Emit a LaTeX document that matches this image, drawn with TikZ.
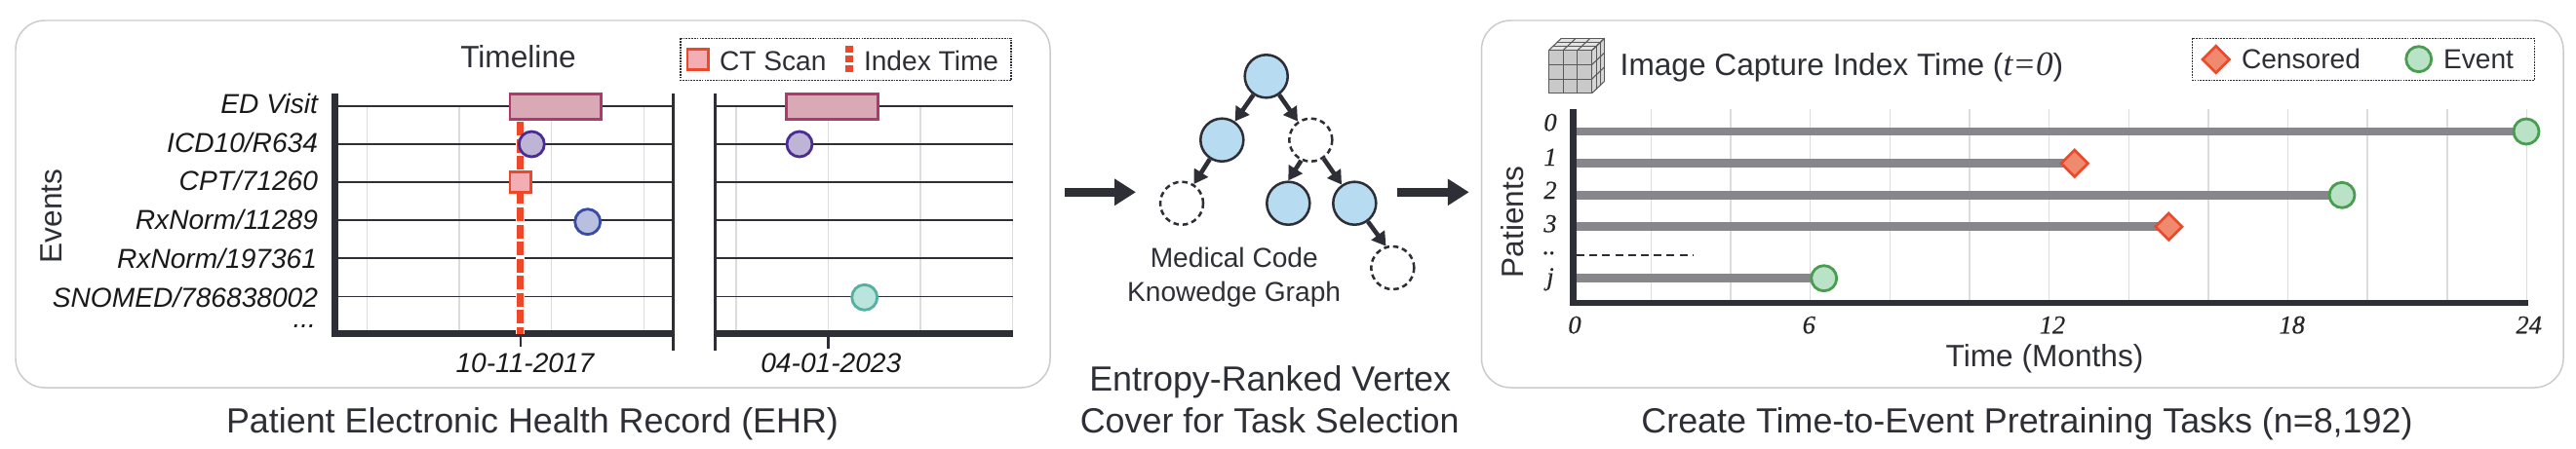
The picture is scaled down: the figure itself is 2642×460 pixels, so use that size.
\documentclass[tikz,border=0pt]{standalone}
\usepackage{fontspec}
\setmainfont{Liberation Sans}
\newfontfamily\numfont[ItalicFeatures={FakeBold=0.5}]{Liberation Serif}
\newfontfamily\titlefont{Liberation Serif}
\usetikzlibrary{arrows.meta,shapes.geometric,backgrounds}

\begin{document}
\begin{tikzpicture}[x=0.01cm,y=-0.01cm,
  txt/.style={inner sep=0pt,outer sep=0pt,text=inkDark},
  captiontxt/.style={txt,anchor=base,font=\fontsize{10.2}{12}\selectfont},
  bigtxt/.style={txt,font=\fontsize{9}{11}\selectfont},
  smalltxt/.style={txt,anchor=base west,font=\fontsize{8}{10}\selectfont},
  rowtxt/.style={txt,anchor=base east,font=\fontsize{8}{10}\selectfont\itshape,text=black!90},
  numtxt/.style={txt,anchor=base,font=\fontsize{7.5}{9}\numfont\itshape,text=black!85},
  panelbox/.style={draw=panelGray,line width=0.42pt,rounded corners=0.3cm},
  legendbox/.style={draw=inkDark,line width=0.3pt,dash pattern=on 0.5pt off 0.3pt},
  gridline/.style={draw=gridGray,line width=0.42pt},
  rowline/.style={draw=inkDark,line width=0.38pt},
  axisline/.style={draw=inkDark,line width=1.85pt},
  visitbox/.style={draw=colVisit,fill=colVisitFill,line width=0.8pt,inner sep=0pt,minimum width=0.935cm,minimum height=0.26cm},
  ctbox/.style={draw=colRed,fill=colCtFill,line width=0.75pt,inner sep=0pt,minimum size=0.215cm},
  dotmark/.style={circle,line width=0.8pt,inner sep=0pt,minimum size=0.26cm},
  eventmark/.style={dotmark,draw=colEvent,fill=colEventFill},
  censormark/.style={diamond,aspect=1,draw=colRed,fill=colCensorFill,line width=0.75pt,inner sep=0pt,minimum size=0.285cm},
  spanbar/.style={draw=barGray,line width=2.5pt},
  kgnode/.style={circle,draw=inkDark,fill=colNode,line width=0.72pt,inner sep=0pt,minimum size=0.44cm},
  kgdrop/.style={kgnode,fill=none,dash pattern=on 1.6pt off 1.1pt},
  kgarrow/.style={draw=inkDark,line width=1.3pt,-{Triangle[length=4pt,width=4.6pt]}},
  flowarrow/.style={draw=inkDark,line width=2.65pt,-{Triangle[length=6.2pt,width=7.4pt]}},
]

% Colori
\definecolor{inkDark}{HTML}{2E2F36}
\definecolor{panelGray}{HTML}{CBCBCB}
\definecolor{gridGray}{HTML}{DCDCDC}
\definecolor{barGray}{HTML}{87878B}
\definecolor{colRed}{HTML}{EE482B}
\definecolor{colCtFill}{HTML}{F4ADB3}
\definecolor{colVisit}{HTML}{AF386C}
\definecolor{colVisitFill}{HTML}{D9A9B6}
\definecolor{colIcd}{HTML}{4B2C92}
\definecolor{colIcdFill}{HTML}{BDB4D6}
\definecolor{colRx}{HTML}{3A4BA5}
\definecolor{colRxFill}{HTML}{B9C0DF}
\definecolor{colSno}{HTML}{55B0A0}
\definecolor{colSnoFill}{HTML}{B9E5DC}
\definecolor{colNode}{HTML}{B7DCF2}
\definecolor{colEvent}{HTML}{4A9D50}
\definecolor{colEventFill}{HTML}{BAE2C6}
\definecolor{colCensorFill}{HTML}{F08A6E}

\useasboundingbox (0,0) rectangle (2642,460);

% Pannelli
\draw[panelbox] (16,21) rectangle (1077,398);
\draw[panelbox] (1519.5,21) rectangle (2629,398);

% --- EHR ---
\node[bigtxt,anchor=base] (timeline) at (531.5,69.3) {Timeline};
\node[bigtxt,anchor=base,rotate=90] (events) at (63.3,222) {Events};

% griglia
\foreach \xx in {376.7,471,565.7,660.7,755,849.3,944,1038.7}
  \draw[gridline] (\xx,109) -- (\xx,339);

% righe eventi
\foreach \yy in {109,148,187,226,265,304.3} {
  \draw[rowline] (347,\yy) -- (690,\yy);
  \draw[rowline] (735,\yy) -- (1039,\yy);
}

% etichette eventi
\node[rowtxt] (rowED) at (326,116.7) {ED Visit};
\node[rowtxt] (rowICD) at (326,156) {ICD10/R634};
\node[rowtxt] (rowCPT) at (326,195.5) {CPT/71260};
\node[rowtxt] (rowRxA) at (326,235.5) {RxNorm/11289};
\node[rowtxt] (rowRxB) at (325,275) {RxNorm/197361};
\node[rowtxt] (rowSno) at (326,315) {SNOMED/786838002};
\node[rowtxt] (rowMore) at (324,336.7) {...};

% assi
\draw[axisline] (343.5,96) -- (343.5,345.5);
\draw[axisline] (340,342.5) -- (690,342.5);
\draw[axisline] (733,342.5) -- (1039,342.5);
\draw[inkDark,line width=0.85pt] (690,96) -- (690,359.5);
\draw[inkDark,line width=0.85pt] (733,96) -- (733,359.5);
\draw[inkDark,line width=0.6pt] (533.7,346) -- (533.7,356);
\draw[inkDark,line width=0.85pt] (849.3,346) -- (849.3,358);

% tempo indice
\coordinate (indexTop) at (533.7,125);
\coordinate (indexEnd) at (533.7,343);
\draw[white,line width=2.5pt] (indexTop) -- (indexEnd);
\draw[colRed,line width=1.85pt,dash pattern=on 4pt off 1pt] (indexTop) -- (indexEnd);

% eventi
\node[visitbox] (visitA) at (569.8,109.3) {};
\node[visitbox] (visitB) at (853.5,109.3) {};
\node[ctbox] (scan) at (533.7,187) {};
\node[dotmark,draw=colIcd,fill=colIcdFill] (icdA) at (545.3,148) {};
\node[dotmark,draw=colIcd,fill=colIcdFill] (icdB) at (820,148) {};
\node[dotmark,draw=colRx,fill=colRxFill] (rxA) at (602.7,227.7) {};
\node[dotmark,draw=colSno,fill=colSnoFill] (snoA) at (886.7,305.3) {};

% date
\node[rowtxt,anchor=base] (dateA) at (538.5,382.7) {10-11-2017};
\node[rowtxt,anchor=base] (dateB) at (852.3,382.7) {04-01-2023};

% legenda EHR
\draw[legendbox] (698,39.3) rectangle (1037,82.3);
\node[ctbox] (legScan) at (715.7,61) {};
\node[smalltxt] (legScanTxt) at (738,72.7) {CT Scan};
\coordinate (legIndexA) at (871,47);
\coordinate (legIndexB) at (871,75);
\draw[colRed,line width=2pt,dash pattern=on 2pt off 0.85pt] (legIndexA) -- (legIndexB);
\node[smalltxt] (legIndexTxt) at (886,72.7) {Index Time};

\node[captiontxt] (capEHR) at (546,444.3) {Patient Electronic Health Record (EHR)};

% --- Grafo ---
\node[kgnode] (root) at (1298.7,78.3) {};
\node[kgnode] (kgLeft) at (1253.3,143.7) {};
\node[kgdrop] (kgMid) at (1344.3,143.7) {};
\node[kgdrop] (kgLow) at (1212,208.7) {};
\node[kgnode] (kgA) at (1321.3,208.7) {};
\node[kgnode] (kgB) at (1389.3,208.7) {};
\node[kgdrop] (kgEnd) at (1428.3,275) {};

\draw[kgarrow] (root) -- (kgLeft);
\draw[kgarrow] (root) -- (kgMid);
\draw[kgarrow] (kgLeft) -- (kgLow);
\draw[kgarrow] (kgMid.245) -- (kgA.north);
\draw[kgarrow] (kgMid) -- (kgB);
\draw[kgarrow] (kgB.-54) -- (kgEnd.107);

\node[smalltxt,anchor=base] (kgTxtA) at (1265.8,274) {Medical Code};
\node[smalltxt,anchor=base] (kgTxtB) at (1265.6,309.3) {Knowedge Graph};
\node[captiontxt] (capKgA) at (1302.7,401) {Entropy-Ranked Vertex};
\node[captiontxt] (capKgB) at (1302.2,444.3) {Cover for Task Selection};

% frecce tra pannelli
\coordinate (flowAa) at (1092,197.3);
\coordinate (flowAb) at (1165,197.3);
\coordinate (flowBa) at (1433.3,197.3);
\coordinate (flowBb) at (1506.7,197.3);
\draw[flowarrow] (flowAa) -- (flowAb);
\draw[flowarrow] (flowBa) -- (flowBb);

% --- Tempo all'evento ---
% cubo
\def\cubeL{1588.3}
\def\cubeR{1632.7}
\def\cubeT{51.7}
\def\cubeB{95.7}
\fill[gray!22] (\cubeL,\cubeT) -- ++(13,-12.4) -- ++(44.4,0) -- (\cubeR,\cubeT) -- cycle;
\fill[gray!32] (\cubeR,\cubeT) -- ++(13,-12.4) -- ++(0,44) -- (\cubeR,\cubeB) -- cycle;
\fill[gray!42] (\cubeL,\cubeT) rectangle (\cubeR,\cubeB);
\foreach \k in {0,1,2,3} {
  \draw[black!65,line width=0.3pt] ({\cubeL+\k*14.8},\cubeT) -- ({\cubeL+\k*14.8},\cubeB);
  \draw[black!65,line width=0.3pt] (\cubeL,{\cubeT+\k*14.67}) -- (\cubeR,{\cubeT+\k*14.67});
  \draw[black!65,line width=0.3pt] ({\cubeL+\k*14.8},\cubeT) -- ++(13,-12.4);
  \draw[black!65,line width=0.3pt] (\cubeR,{\cubeT+\k*14.67}) -- ++(13,-12.4);
  \draw[black!65,line width=0.3pt] ({\cubeR+\k*13/3},{\cubeT-\k*12.4/3}) -- ++(0,44);
  \draw[black!65,line width=0.3pt] ({\cubeL+\k*13/3},{\cubeT-\k*12.4/3}) -- ++(44.4,0);
}

\node[bigtxt,anchor=base west] (imgTitle) at (1661.7,77.7) {Image Capture Index Time ({\fontsize{10}{11}\titlefont\itshape t=0})};

% righe pazienti
\node[eventmark] (endA) at (2591,135) {};
\node[censormark] (endB) at (2127.7,167.7) {};
\node[eventmark] (endC) at (2402,200.3) {};
\node[censormark] (endD) at (2224.3,232.7) {};
\node[eventmark] (endE) at (1870.7,285.7) {};

\begin{scope}[on background layer]
% griglia
\foreach \k in {1,...,12}
  \draw[gridline] ({1611.7+81.65*\k},112.3) -- ({1611.7+81.65*\k},308);
\foreach \nm/\yy in {A/135,B/167.7,C/200.3,D/232.7,E/285.7} {
  \coordinate (start\nm) at (1617,\yy);
  \draw[spanbar] (start\nm) -- (end\nm.center);
}
\end{scope}
\coordinate (moreA) at (1617,261.7);
\coordinate (moreB) at (1736.7,261.7);
\draw[inkDark,line width=0.6pt,dash pattern=on 2.3pt off 1.45pt] (moreA) -- (moreB);

% assi
\draw[axisline] (1613.5,112.3) -- (1613.5,314.3);
\draw[axisline] (1610,311) -- (2592.7,311);

% etichette pazienti
\node[numtxt] (patA) at (1590,134.3) {0};
\node[numtxt] (patB) at (1590,170) {1};
\node[numtxt] (patC) at (1590,204) {2};
\node[numtxt] (patD) at (1590,238.3) {3};
\node[numtxt] (patMore) at (1589,261) {..};
\node[numtxt] (patJ) at (1590,292.7) {j};
\node[bigtxt,anchor=base,rotate=90] (patients) at (1562.7,228.3) {Patients};

\node[numtxt] (tickA) at (1615,342.3) {0};
\node[numtxt] (tickB) at (1855.3,342.3) {6};
\node[numtxt] (tickC) at (2105,342.3) {12};
\node[numtxt] (tickD) at (2350.7,342.3) {18};
\node[numtxt] (tickE) at (2593.7,342.3) {24};
\node[bigtxt,anchor=base] (timeAxis) at (2097,376.7) {Time (Months)};

% legenda
\draw[legendbox] (2248.7,39.3) rectangle (2599.3,82.3);
\node[censormark] (legCens) at (2272.7,61) {};
\node[smalltxt] (legCensTxt) at (2299,70.7) {Censored};
\node[eventmark] (legEvent) at (2480.7,60.7) {};
\node[smalltxt] (legEventTxt) at (2506,70.7) {Event};

\node[captiontxt] (capTask) at (2079,444.3) {Create Time-to-Event Pretraining Tasks (n=8,192)};

\end{tikzpicture}
\end{document}
